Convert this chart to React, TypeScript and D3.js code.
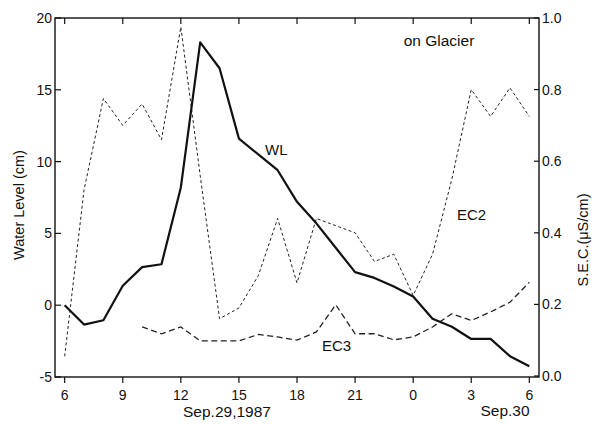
import React from "react";
import * as d3 from "d3";

const hoursWL = [6,7,8,9,10,11,12,13,14,15,16,17,18,19,20,21,22,23,24,25,26,27,28,29,30];
const wlValues = [0,-1.35,-1.05,1.35,2.65,2.85,8.2,18.3,16.5,11.6,10.5,9.4,7.2,5.7,4.0,2.3,1.9,1.3,0.6,-0.95,-1.5,-2.35,-2.35,-3.55,-4.25];

const hoursEC2 = [6,7,8,9,10,11,12,13,14,15,16,17,18,19,20,21,22,23,24,25,26,27,28,29,30];
const ec2Values = [0.055,0.52,0.775,0.70,0.76,0.66,0.975,0.56,0.16,0.19,0.28,0.44,0.26,0.44,0.42,0.40,0.32,0.34,0.225,0.34,0.55,0.80,0.725,0.805,0.725];

const hoursEC3 = [10,11,12,13,14,15,16,17,18,19,20,21,22,23,24,25,26,27,28,29,30];
const ec3Values = [0.137,0.118,0.137,0.098,0.098,0.098,0.116,0.109,0.10,0.123,0.199,0.118,0.118,0.101,0.109,0.137,0.174,0.155,0.179,0.206,0.262];

const xTicks = [6,9,12,15,18,21,24,27,30];
const xTickLabels = ["6","9","12","15","18","21","0","3","6"];
const leftTicks = [-5,0,5,10,15,20];
const rightTicks = [0,0.2,0.4,0.6,0.8,1.0];

const FONT = "'Liberation Sans', Arial, sans-serif";

export default function App() {
  const L = 55, R = 539, T = 18, B = 377;
  const x = d3.scaleLinear().domain([5.5, 30.5]).range([L, R]);
  const yL = d3.scaleLinear().domain([-5, 20]).range([B, T]);
  const yR = d3.scaleLinear().domain([0, 1]).range([B - 1, T]);

  const wlLine = d3.line<number>().x((_, i) => x(hoursWL[i])).y((d) => yL(d));
  const ec2Line = d3.line<number>().x((_, i) => x(hoursEC2[i])).y((d) => yR(d));
  const ec3Line = d3.line<number>().x((_, i) => x(hoursEC3[i])).y((d) => yR(d));

  return (
    <svg width={592} height={424} style={{ position: "absolute", left: 0, top: 0, background: "#fff" }} fontFamily={FONT}>
      <rect x={0} y={0} width={592} height={424} fill="#fff" />
      <rect x={L} y={T} width={R - L} height={B - T} fill="none" stroke="#111" strokeWidth={1.4} />
      {xTicks.map((t, i) => (
        <g key={"xt" + i}>
          <line x1={x(t)} x2={x(t)} y1={B} y2={B + 6} stroke="#111" strokeWidth={1.2} />
          <line x1={x(t)} x2={x(t)} y1={T} y2={T + 6} stroke="#111" strokeWidth={1.2} />
          <text x={x(t)} y={400} textAnchor="middle" fontSize={14} fill="#111">{xTickLabels[i]}</text>
        </g>
      ))}
      {leftTicks.map((t) => (
        <g key={"lt" + t}>
          <line x1={L} x2={L + 6} y1={yL(t)} y2={yL(t)} stroke="#111" strokeWidth={1.2} />
          <text x={L - 3} y={yL(t) + 5} textAnchor="end" fontSize={14} fill="#111">{t}</text>
        </g>
      ))}
      {rightTicks.map((t) => (
        <g key={"rt" + t}>
          <line x1={R - 5} x2={R} y1={yR(t)} y2={yR(t)} stroke="#111" strokeWidth={1.2} />
          <text x={R + 3} y={yR(t) + 5} textAnchor="start" fontSize={14} fill="#111">{t.toFixed(1)}</text>
        </g>
      ))}
      <path d={ec2Line(ec2Values) || ""} fill="none" stroke="#222" strokeWidth={1} strokeDasharray="3,2.5" />
      <path d={ec3Line(ec3Values) || ""} fill="none" stroke="#222" strokeWidth={1.3} strokeDasharray="6,3.5" />
      <path d={wlLine(wlValues) || ""} fill="none" stroke="#111" strokeWidth={2.2} strokeLinejoin="round" />
      <text x={439} y={46} textAnchor="middle" fontSize={15.5} fill="#111">on Glacier</text>
      <text x={265} y={155} fontSize={15} fill="#111">WL</text>
      <text x={457} y={220} fontSize={15} fill="#111">EC2</text>
      <text x={322} y={351} fontSize={15} fill="#111">EC3</text>
      <text transform="translate(24,205) rotate(-90)" textAnchor="middle" fontSize={14.5} fill="#111">Water Level (cm)</text>
      <text transform="translate(588,240) rotate(-90)" textAnchor="middle" fontSize={14.5} fill="#111">S.E.C.(μS/cm)</text>
      <text x={227} y={417} textAnchor="middle" fontSize={15.5} fill="#111">Sep.29,1987</text>
      <text x={505} y={416} textAnchor="middle" fontSize={15.5} fill="#111">Sep.30</text>
    </svg>
  );
}
